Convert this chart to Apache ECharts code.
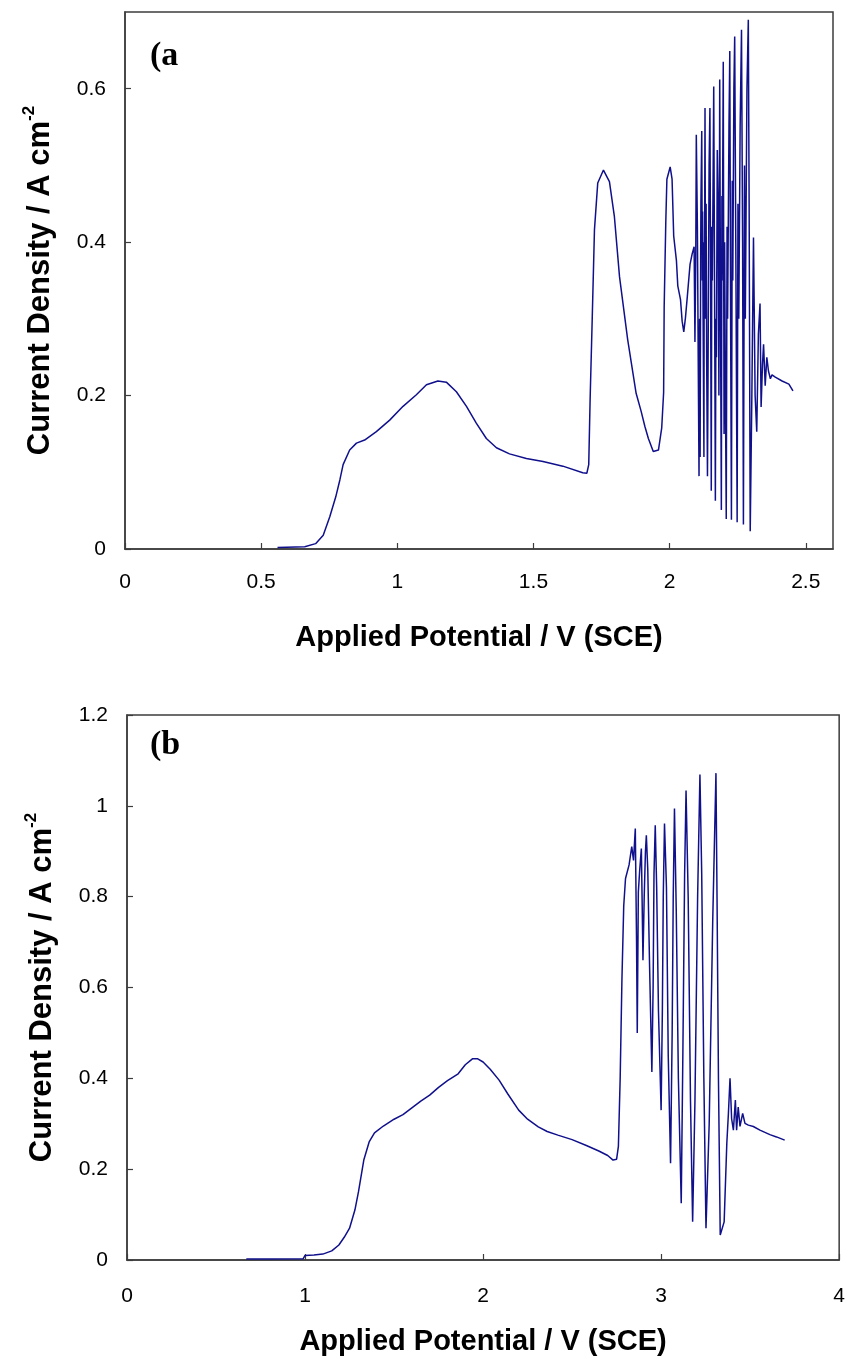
<!DOCTYPE html>
<html>
<head>
<meta charset="utf-8">
<script src="https://cdn.jsdelivr.net/npm/echarts@6/dist/echarts.min.js"></script>
<style>
html,body{margin:0;padding:0;background:#fff;}
#chart{width:848px;height:1359px;}
</style>
</head>
<body>
<div id="chart"></div>
<script>
// ---- Panel (a) ----
const potentialA = [0.56,0.66,0.70,0.728,0.752,0.774,0.789,0.801,0.825,0.850,0.880,0.923,0.972,1.021,1.070,1.107,1.149,1.180,1.217,1.254,1.290,1.327,1.364,1.412,1.474,1.535,1.608,1.681,1.696,1.703,1.708,1.716,1.724,1.736,1.757,1.779,1.797,1.816,1.846,1.877,1.895,1.909,1.922,1.940,1.959,1.971,1.978,1.980,1.986,1.990,2.002,2.009,2.015,2.025,2.030,2.040,2.046,2.052,2.058,2.065,2.075,2.083,2.090,
2.093,2.096,2.098,2.102,2.105,2.108,2.110,2.112,2.114,2.115,2.118,2.120,2.121,2.123,2.126,2.127,2.128,2.130,2.132,2.134,2.136,2.139,2.141,2.142,2.145,2.148,2.150,2.153,2.155,2.157,2.160,2.162,2.165,2.168,2.170,2.172,2.175,2.178,2.181,2.184,2.187,2.190,2.192,2.193,2.197,2.200,2.202,2.205,2.208,2.211,2.213,2.218,2.221,2.224,2.227,2.230,2.232,2.236,2.239,2.243,2.248,2.251,2.254,2.259,2.264,2.268,2.271,2.275,2.278,2.284,2.289,2.292,2.296,2.302,2.308,2.314,2.320,2.326,2.332,2.336,2.341,2.345,2.351,2.357,2.363,2.370,2.376,2.388,2.413,2.438,2.453];
const currentA = [0.002,0.003,0.007,0.018,0.042,0.068,0.090,0.110,0.129,0.138,0.142,0.153,0.168,0.186,0.201,0.214,0.219,0.2175,0.205,0.186,0.164,0.144,0.132,0.124,0.118,0.114,0.108,0.0995,0.0987,0.110,0.194,0.303,0.416,0.477,0.494,0.479,0.434,0.355,0.273,0.203,0.18,0.16,0.144,0.127,0.129,0.158,0.204,0.315,0.427,0.482,0.498,0.482,0.408,0.376,0.343,0.325,0.297,0.283,0.301,0.329,0.371,0.385,0.394,
0.27,0.38,0.54,0.42,0.25,0.095,0.30,0.12,0.38,0.45,0.545,0.35,0.44,0.30,0.12,0.40,0.35,0.575,0.30,0.45,0.25,0.095,0.22,0.30,0.50,0.575,0.40,0.076,0.42,0.35,0.50,0.603,0.35,0.063,0.30,0.25,0.52,0.45,0.20,0.612,0.30,0.051,0.46,0.35,0.635,0.15,0.40,0.20,0.039,0.42,0.30,0.55,0.649,0.30,0.038,0.48,0.35,0.60,0.668,0.40,0.035,0.45,0.30,0.55,0.677,0.40,0.032,0.50,0.30,0.60,0.690,0.45,0.023,0.20,0.406,0.20,0.153,0.28,0.320,0.185,0.24,0.267,0.213,0.25,0.232,0.222,0.227,0.224,0.219,0.215,0.206];

// ---- Panel (b) ----
const potentialB = [0.67,0.80,0.99,1.0,1.05,1.10,1.15,1.19,1.22,1.25,1.28,1.30,1.33,1.36,1.39,1.44,1.50,1.55,1.60,1.65,1.70,1.75,1.80,1.86,1.90,1.94,1.97,2.0,2.04,2.09,2.14,2.20,2.25,2.31,2.36,2.42,2.5,2.58,2.65,2.70,2.73,2.75,2.76,2.77,2.78,2.79,2.80,2.82,2.835,2.845,2.855,2.862,2.866,2.872,2.880,2.889,2.893,2.898,2.905,2.912,2.917,2.925,2.935,2.948,2.955,2.960,2.967,2.975,2.985,3.000,3.007,3.012,3.019,3.03,3.04,3.053,3.062,3.068,3.075,3.085,3.097,3.113,3.122,3.132,3.140,3.152,3.165,3.177,3.19,3.205,3.218,3.228,3.24,3.252,3.27,3.29,3.308,3.314,3.322,3.332,3.354,3.369,3.378,3.387,3.396,3.406,3.417,3.424,3.433,3.443,3.458,3.471,3.490,3.518,3.555,3.611,3.648,3.694];
const currentB = [0.002,0.002,0.003,0.01,0.011,0.013,0.02,0.033,0.05,0.07,0.11,0.15,0.22,0.26,0.28,0.295,0.31,0.32,0.335,0.35,0.363,0.38,0.395,0.41,0.43,0.443,0.443,0.436,0.42,0.396,0.365,0.33,0.31,0.293,0.283,0.275,0.265,0.252,0.24,0.23,0.22,0.222,0.25,0.40,0.62,0.78,0.84,0.87,0.91,0.88,0.95,0.70,0.50,0.81,0.86,0.906,0.80,0.66,0.80,0.90,0.935,0.86,0.65,0.414,0.60,0.85,0.957,0.82,0.55,0.330,0.55,0.80,0.961,0.82,0.45,0.213,0.50,0.80,0.994,0.77,0.40,0.125,0.45,0.85,1.034,0.80,0.35,0.084,0.35,0.80,1.069,0.85,0.40,0.070,0.30,0.75,1.072,0.80,0.40,0.055,0.084,0.257,0.323,0.400,0.311,0.286,0.352,0.286,0.337,0.294,0.323,0.301,0.297,0.294,0.286,0.276,0.271,0.264];

const xTitle = 'Applied Potential / V (SCE)';
const yTitleMain = 'Current Density / A cm';
const yTitleSup = '-2';

function zip(xs, ys){ return xs.map((x,i)=>[x, ys[i]]); }

const FRAME = '#3c3c3c';
const LINE = '#10108c';
const SANS = 'Liberation Sans, Arial, sans-serif';

function xAxisCfg(gridIndex, max, interval, gap, margin){
  return {
    type:'value', gridIndex, min:0, max, interval,
    axisLine:{show:true, onZero:false, lineStyle:{color:FRAME, width:1.5}},
    axisTick:{show:true, inside:true, length:6, lineStyle:{color:FRAME, width:1.2}},
    axisLabel:{color:'#000', fontFamily:SANS, fontSize:21, margin, showMaxLabel: max % interval === 0},
    splitLine:{show:false},
    name:xTitle, nameLocation:'middle', nameGap:gap,
    nameTextStyle:{color:'#000', fontFamily:SANS, fontWeight:'bold', fontSize:29}
  };
}
function yAxisCfg(gridIndex, max, interval){
  return {
    type:'value', gridIndex, min:0, max, interval,
    axisLine:{show:true, onZero:false, lineStyle:{color:FRAME, width:1.5}},
    axisTick:{show:true, inside:true, length:6, lineStyle:{color:FRAME, width:1.2}},
    axisLabel:{color:'#000', fontFamily:SANS, fontSize:21, margin:19,
      showMaxLabel: Math.abs(max/interval - Math.round(max/interval)) < 1e-9},
    splitLine:{show:false},
    name:'{m|' + yTitleMain + '}{s|' + yTitleSup + '}',
    nameLocation:'middle', nameGap:66, nameRotate:90,
    nameTextStyle:{
      rich:{
        m:{color:'#000', fontFamily:SANS, fontWeight:'bold', fontSize:31, lineHeight:38},
        s:{color:'#000', fontFamily:SANS, fontWeight:'bold', fontSize:17, verticalAlign:'top', lineHeight:38, padding:[0,0,16,0]}
      }
    }
  };
}

const chart = echarts.init(document.getElementById('chart'), null, {renderer:'canvas'});
chart.setOption({
  animation:false,
  backgroundColor:'#fff',
  grid:[
    {left:125, top:12, width:708, height:537, show:true, borderColor:FRAME, borderWidth:1.5, backgroundColor:'#fff'},
    {left:127, top:715, width:713, height:545, show:true, borderColor:FRAME, borderWidth:1.5, backgroundColor:'#fff'}
  ],
  xAxis:[ xAxisCfg(0, 2.6, 0.5, 74, 23), xAxisCfg(1, 4, 1, 67, 26) ],
  yAxis:[ yAxisCfg(0, 0.7, 0.2), yAxisCfg(1, 1.2, 0.2) ],
  series:[
    {type:'line', xAxisIndex:0, yAxisIndex:0, data:zip(potentialA, currentA), showSymbol:false,
     lineStyle:{color:LINE, width:1.5}},
    {type:'line', xAxisIndex:1, yAxisIndex:1, data:zip(potentialB, currentB), showSymbol:false,
     lineStyle:{color:LINE, width:1.5}}
  ],
  graphic:[
    {type:'text', left:150, top:39, style:{text:'(a', fontFamily:'Liberation Serif, Times New Roman, serif', fontWeight:'bold', fontSize:34, fill:'#000'}},
    {type:'text', left:150, top:728, style:{text:'(b', fontFamily:'Liberation Serif, Times New Roman, serif', fontWeight:'bold', fontSize:34, fill:'#000'}}
  ]
});
</script>
</body>
</html>
